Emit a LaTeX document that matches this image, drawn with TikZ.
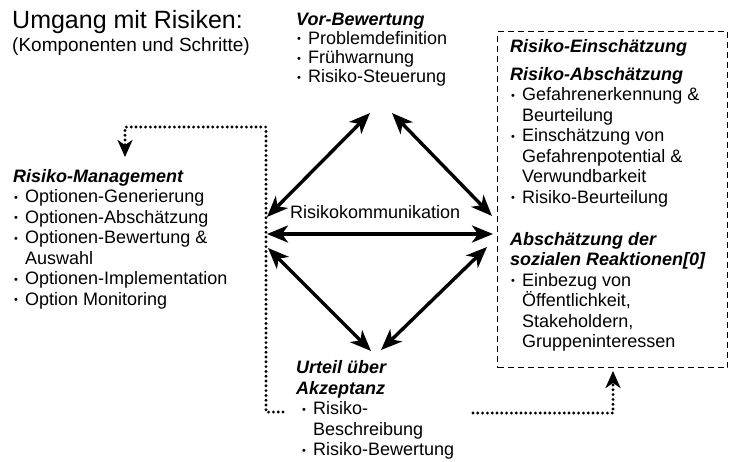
\documentclass[tikz,border=0pt]{standalone}
\usepackage{fontspec}
\setmainfont{Liberation Sans}
\usetikzlibrary{arrows.meta}
\newcommand\bul{\makebox[12pt][l]{\hspace{1pt}\raisebox{1.5pt}{\fontsize{11}{11}\selectfont\textbullet}}}
\newcommand\ind{\hspace*{12pt}}
\newcommand\hd[1]{\textbf{\textit{#1}}}
\begin{document}
\begin{tikzpicture}[x=1pt,y=-1pt,
  txt/.style={anchor=base west, inner sep=0pt, align=left, font=\fontsize{18}{20.5}\selectfont},
  dbl/.style={line width=3.4pt, {Stealth[length=21pt,width=17pt,inset=6pt]}-{Stealth[length=21pt,width=17pt,inset=6pt]}},
  dots/.style={line width=3.2pt, line cap=round, dash pattern=on 0pt off 4.8pt},
  dtip/.style={-{Stealth[length=17pt,width=15pt,inset=5pt]}}
]
\useasboundingbox (0,0) rectangle (731,461);
% texts (anchor base = baseline of the last line)
\node[txt] (title) at (12,28) {\fontsize{25}{28}\selectfont Umgang mit Risiken:};
\node[txt, font=\fontsize{19}{21}\selectfont] (sub) at (12,51) {(Komponenten und Schritte)};
\node[txt, font=\fontsize{18}{19.3}\selectfont] (vor) at (296,82.9) {\hd{Vor-Bewertung}\\ \bul Problemdefinition\\ \bul Frühwarnung\\ \bul Risiko-Steuerung};
\node[draw, dashed, line width=1pt, dash pattern=on 6pt off 4pt, inner sep=0pt, minimum width=230pt, minimum height=336pt, anchor=north west] (box) at (497,31) {};
\node[txt] (ein) at (510,52) {\hd{Risiko-Einschätzung}};
\node[txt] (abs) at (510,203) {\hd{Risiko-Abschätzung}\\ \bul Gefahrenerkennung \&\\ \ind Beurteilung\\ \bul Einschätzung von\\ \ind Gefahrenpotential \&\\ \ind Verwundbarkeit\\ \bul Risiko-Beurteilung};
\node[txt] (soz) at (510,347.5) {\hd{Abschätzung der}\\ \hd{sozialen Reaktionen[0]}\\ \bul Einbezug von\\ \ind Öffentlichkeit,\\ \ind Stakeholdern,\\ \ind Gruppeninteressen};
\node[txt] (mgmt) at (13,305) {\hd{Risiko-Management}\\ \bul Optionen-Generierung\\ \bul Optionen-Abschätzung\\ \bul Optionen-Bewertung \&\\ \ind Auswahl\\ \bul Optionen-Implementation\\ \bul Option Monitoring};
\node[txt] (urteil) at (296,455.5) {\hd{Urteil über}\\ \hd{Akzeptanz}\\ \hspace*{5pt}\bul Risiko-\\ \hspace*{5pt}\ind Beschreibung\\ \hspace*{5pt}\bul Risiko-Bewertung};
\node[txt] (komm) at (290,218) {Risikokommunikation};
% arrow ends
\coordinate (vorL) at (370,113); \coordinate (vorR) at (392,113);
\coordinate (mL1) at (267,217); \coordinate (mL2) at (267,234); \coordinate (mL3) at (268,248);
\coordinate (bR1) at (492,216); \coordinate (bR2) at (493,234); \coordinate (bR3) at (487,247);
\coordinate (uL) at (371,351); \coordinate (uR) at (381,350);
\draw[dbl] (mL1) -- (vorL);
\draw[dbl] (vorR) -- (bR1);
\draw[dbl] (mL2) -- (bR2);
\draw[dbl] (mL3) -- (uL);
\draw[dbl] (uR) -- (bR3);
% dotted feedback connectors
\coordinate (uOutL) at (283,412); \coordinate (uOutR) at (473,413);
\coordinate (mIn) at (125,157); \coordinate (bIn) at (613,371);
\draw[dots, dtip] (uOutL) -- (266,412) -- (266,127) -- (125,127) -- (mIn);
\draw[dots, dtip] (uOutR) -- (613,413) -- (bIn);
\end{tikzpicture}
\end{document}
